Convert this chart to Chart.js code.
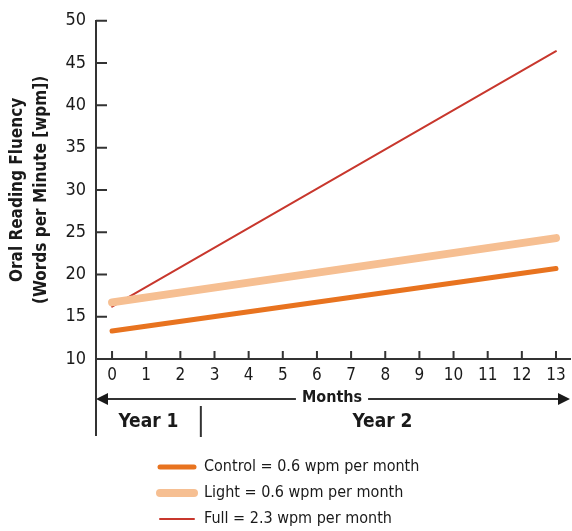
<!DOCTYPE html>
<html lang="en">
<head>
<meta charset="UTF-8">
<title>Oral Reading Fluency</title>
<script src="https://cdn.jsdelivr.net/npm/chart.js"></script>
<style>
  html, body { margin: 0; padding: 0; background: #fff; }
  #wrap { width: 572px; height: 531px; }
</style>
</head>
<body>
<div id="wrap"><canvas id="fluencyChart" width="572" height="531"></canvas></div>
<script>
// data
const months = [0, 13];
const controlWpm = [13.3, 20.7];
const lightWpm = [16.7, 24.3];
const fullWpm = [16.2, 46.4];
const seriesNames = ['Control = 0.6 wpm per month', 'Light = 0.6 wpm per month', 'Full = 2.3 wpm per month'];
const monthTicks = [0, 1, 2, 3, 4, 5, 6, 7, 8, 9, 10, 11, 12, 13];
const wpmTicks = [10, 15, 20, 25, 30, 35, 40, 45, 50];
const yearLabels = ['Year 1', 'Year 2'];
const yearBreak = 2.6; // month where year 2 starts

const FONT = "'Liberation Sans Narrow', 'DejaVu Sans Condensed', 'Open Sans', sans-serif";
const INK = '#333';
const TEXT = '#1a1a1a';

function pts(vals) {
    return months.map((m, i) => ({ x: m, y: vals[i] }));
}

// inward ticks, months arrow, year brackets and legend
const extras = {
    id: 'extras',
    afterDraw(chart) {
        const { ctx, chartArea: a } = chart;
        const xs = chart.scales.x, ys = chart.scales.y;
        ctx.save();
        ctx.strokeStyle = INK;
        ctx.fillStyle = TEXT;
        ctx.lineWidth = 2;
        ctx.beginPath();
        wpmTicks.forEach(v => {
            const y = ys.getPixelForValue(v);
            ctx.moveTo(a.left, y); ctx.lineTo(a.left + 11, y);
        });
        monthTicks.forEach(v => {
            const x = xs.getPixelForValue(v);
            ctx.moveTo(x, a.bottom); ctx.lineTo(x, a.bottom - 8);
        });
        ctx.stroke();

        // months arrow
        const ay = 399, ax0 = a.left, ax1 = a.right;
        const mid = (ax0 + ax1) / 2 - 1;
        ctx.font = 'bold 16px ' + FONT;
        ctx.textAlign = 'center';
        ctx.textBaseline = 'middle';
        const tw = ctx.measureText('Months').width;
        ctx.beginPath();
        ctx.moveTo(ax0 + 8, ay); ctx.lineTo(mid - tw / 2 - 6, ay);
        ctx.moveTo(mid + tw / 2 + 6, ay); ctx.lineTo(ax1 - 8, ay);
        ctx.stroke();
        ctx.beginPath();
        ctx.moveTo(ax0, ay); ctx.lineTo(ax0 + 12, ay - 6); ctx.lineTo(ax0 + 12, ay + 6); ctx.closePath();
        ctx.moveTo(ax1, ay); ctx.lineTo(ax1 - 12, ay - 6); ctx.lineTo(ax1 - 12, ay + 6); ctx.closePath();
        ctx.fill();
        ctx.fillText('Months', mid, ay - 1);

        // year brackets
        const bx = xs.getPixelForValue(yearBreak);
        ctx.beginPath();
        ctx.moveTo(a.left, a.bottom); ctx.lineTo(a.left, 436);
        ctx.moveTo(bx, 406); ctx.lineTo(bx, 437);
        ctx.stroke();
        ctx.font = 'bold 19px ' + FONT;
        ctx.fillText(yearLabels[0], (a.left + bx) / 2, 422);
        ctx.fillText(yearLabels[1], (bx + a.right) / 2 - 3, 422);

        // legend
        ctx.font = '16px ' + FONT;
        ctx.textAlign = 'left';
        chart.data.datasets.forEach((ds, i) => {
            const y = 467 + i * 26;
            ctx.strokeStyle = ds.borderColor;
            ctx.lineWidth = ds.borderWidth;
            ctx.lineCap = 'round';
            ctx.beginPath();
            ctx.moveTo(160, y); ctx.lineTo(194, y);
            ctx.stroke();
            ctx.fillStyle = TEXT;
            ctx.fillText(ds.label, 204, y);
        });
        ctx.restore();
    }
};

new Chart(document.getElementById('fluencyChart'), {
    type: 'line',
    data: {
        datasets: [
            { label: seriesNames[0], data: pts(controlWpm), borderColor: '#e8731f', borderWidth: 5 },
            { label: seriesNames[1], data: pts(lightWpm), borderColor: '#f6bf92', borderWidth: 8 },
            { label: seriesNames[2], data: pts(fullWpm), borderColor: '#c8372d', borderWidth: 2 }
        ].map(d => Object.assign(d, { pointRadius: 0, borderCapStyle: 'round', fill: false, tension: 0 }))
    },
    options: {
        responsive: false,
        animation: false,
        layout: { padding: { top: 19, right: 2, bottom: 0, left: 0 } },
        plugins: { legend: { display: false }, tooltip: { enabled: false } },
        scales: {
            x: {
                type: 'linear',
                min: -0.47,
                max: 13.41,
                afterBuildTicks: s => { s.ticks = monthTicks.map(v => ({ value: v })); },
                afterFit: s => { s.height = 172; },
                grid: { display: false, drawTicks: false },
                border: { color: INK, width: 2 },
                ticks: { color: TEXT, padding: 6, font: { family: FONT, size: 17 }, maxRotation: 0 }
            },
            y: {
                min: 10,
                max: 50,
                afterBuildTicks: s => { s.ticks = wpmTicks.map(v => ({ value: v })); },
                afterFit: s => { s.width = 96; },
                grid: { display: false, drawTicks: false },
                border: { color: INK, width: 2 },
                ticks: { color: TEXT, padding: 10, font: { family: FONT, size: 18 } },
                title: {
                    display: true,
                    text: ['Oral Reading Fluency', '(Words per Minute [wpm])'],
                    color: TEXT,
                    font: { family: FONT, size: 17, weight: 'bold', lineHeight: 1.45 },
                    padding: { top: 5, bottom: 0 }
                }
            }
        }
    },
    plugins: [extras]
});
</script>
</body>
</html>
